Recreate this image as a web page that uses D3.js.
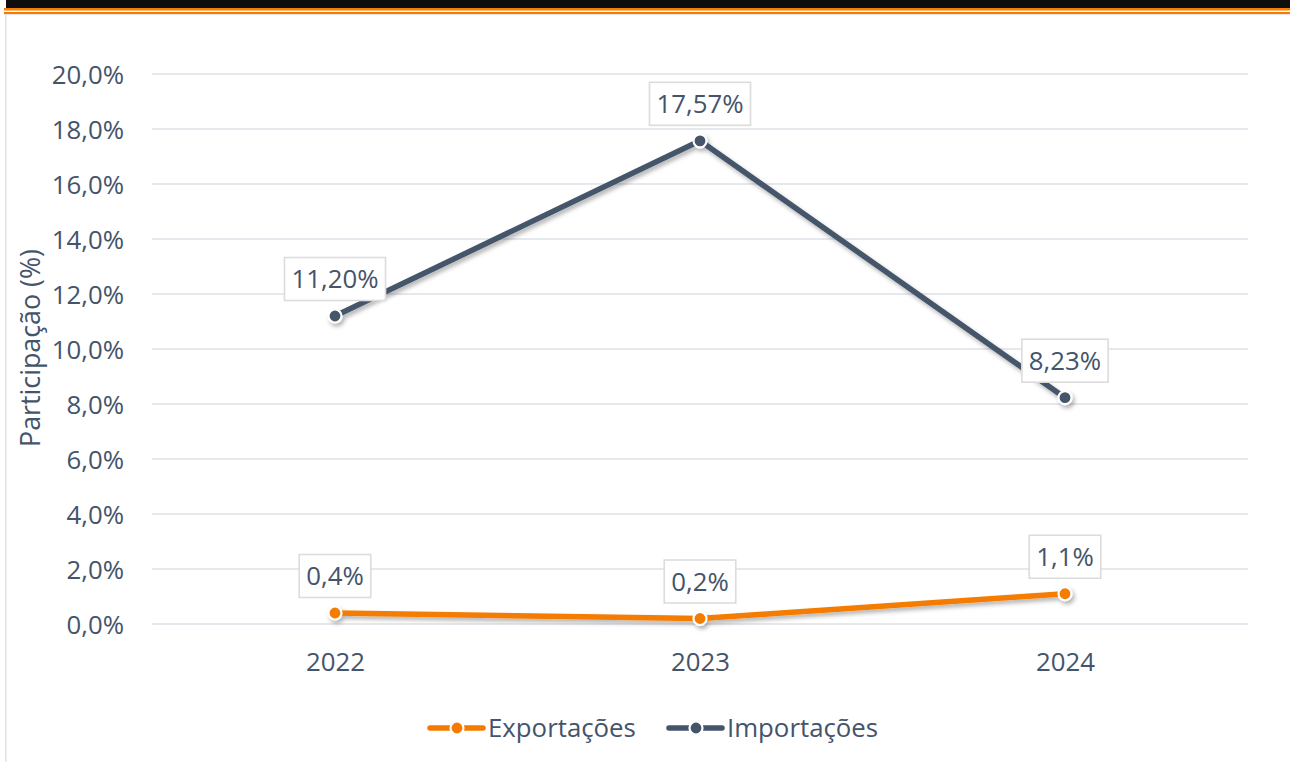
<!DOCTYPE html>
<html><head><meta charset="utf-8">
<script src="https://cdn.jsdelivr.net/npm/d3@7"></script>
<style>html,body{margin:0;padding:0;background:#fff;overflow:hidden}svg{display:block}</style>
</head><body>
<svg id="c" width="1290" height="762"></svg>
<script>
const categories = ["2022", "2023", "2024"];
const exportValues = [0.4, 0.2, 1.1];
const importValues = [11.20, 17.57, 8.23];
const exportLabels = ["0,4%", "0,2%", "1,1%"];
const importLabels = ["11,20%", "17,57%", "8,23%"];
const yTicks = [0, 2, 4, 6, 8, 10, 12, 14, 16, 18, 20];
const seriesNames = ["Exportações", "Importações"];
const colors = ["#f47b00", "#44546a"];

const svg = d3.select("#c");
const font = "'Open Sans', sans-serif";
const textColor = "#44546a";
const fs = 25.8;

// header
svg.append("rect").attr("x", 6).attr("y", 0).attr("width", 1284).attr("height", 8).attr("fill", "#0e0e0e");
svg.append("rect").attr("x", 4).attr("y", 8).attr("width", 1286).attr("height", 2.5).attr("fill", "#f57c00");
svg.append("rect").attr("x", 4).attr("y", 12).attr("width", 1286).attr("height", 2.2).attr("fill", "#f57c00");
svg.append("rect").attr("x", 4).attr("y", 14.2).attr("width", 1286).attr("height", 1).attr("fill", "#dfe5ec");
svg.append("rect").attr("x", 5).attr("y", 14).attr("width", 1.6).attr("height", 748).attr("fill", "#dfe5ec");

const defs = svg.append("defs");
const f = defs.append("filter").attr("id", "sh").attr("x", "-10%").attr("y", "-10%").attr("width", "120%").attr("height", "140%");
f.append("feDropShadow").attr("dx", 2).attr("dy", 3).attr("stdDeviation", 2.2).attr("flood-color", "#000").attr("flood-opacity", 0.3);

const x = d3.scalePoint().domain(categories).range([152.5, 1247.5]).padding(0.5);
const y = d3.scaleLinear().domain([0, 20]).range([624, 74]);

// grid
svg.append("g").selectAll("line").data(yTicks).join("line")
  .attr("x1", 152).attr("x2", 1248)
  .attr("y1", d => y(d)).attr("y2", d => y(d))
  .attr("stroke", "#dde2e8").attr("stroke-width", 1.6);

// y axis labels
const yAxis = d3.axisLeft(y).tickValues(yTicks).tickSize(0).tickPadding(0)
  .tickFormat(d => d.toFixed(1).replace(".", ",") + "%");
const ya = svg.append("g").attr("transform", "translate(124,0)").call(yAxis);
ya.select(".domain").remove();
ya.selectAll("text").attr("font-family", font).attr("font-size", fs).attr("fill", textColor).attr("dy", "0.35em");

// x axis labels
const xAxis = d3.axisBottom(x).tickSize(0).tickPadding(0);
const xa = svg.append("g").attr("transform", "translate(0,662)").call(xAxis);
xa.select(".domain").remove();
xa.selectAll("text").attr("font-family", font).attr("font-size", fs).attr("fill", textColor).attr("dy", "0.35em");

// y title
svg.append("text").attr("transform", "translate(31,348) rotate(-90)")
  .attr("text-anchor", "middle").attr("dy", "0.35em")
  .attr("font-family", font).attr("font-size", fs + 1).attr("fill", textColor)
  .text("Participação (%)");

const series = [
  {name: seriesNames[0], values: exportValues, labels: exportLabels, color: colors[0]},
  {name: seriesNames[1], values: importValues, labels: importLabels, color: colors[1]}
];

const line = d3.line().x((d, i) => x(categories[i])).y(d => y(d));

series.forEach(s => {
  const sg = svg.append("g").attr("filter", "url(#sh)");
  sg.append("path").datum(s.values).attr("d", line)
    .attr("fill", "none").attr("stroke", s.color).attr("stroke-width", 5.5)
    .attr("stroke-linejoin", "round").attr("stroke-linecap", "round");
  sg.selectAll("circle").data(s.values).join("circle")
    .attr("cx", (d, i) => x(categories[i])).attr("cy", d => y(d)).attr("r", 6.5)
    .attr("fill", s.color).attr("stroke", "#fff").attr("stroke-width", 2.2);
});

// data labels
series.forEach(s => {
  s.values.forEach((v, i) => {
    const cx = x(categories[i]), cy = y(v) - 37;
    const lg = svg.append("g");
    const t = lg.append("text").attr("x", cx).attr("y", cy).attr("dy", "0.35em")
      .attr("text-anchor", "middle").attr("font-family", font).attr("font-size", fs)
      .attr("fill", textColor).text(s.labels[i]);
    const bb = t.node().getBBox();
    lg.insert("rect", "text").attr("x", cx - bb.width / 2 - 7).attr("y", cy - 21.5)
      .attr("width", bb.width + 14).attr("height", 43)
      .attr("fill", "#fff").attr("stroke", "#dcdcdc").attr("stroke-width", 1.6);
  });
});

// legend
const legend = [
  {name: seriesNames[0], color: colors[0], x0: 428},
  {name: seriesNames[1], color: colors[1], x0: 667}
];
legend.forEach(l => {
  const lg = svg.append("g");
  lg.append("line").attr("x1", l.x0 + 2).attr("x2", l.x0 + 55).attr("y1", 728).attr("y2", 728)
    .attr("stroke", l.color).attr("stroke-width", 5.5).attr("stroke-linecap", "round");
  lg.append("circle").attr("cx", l.x0 + 29).attr("cy", 728).attr("r", 6.5)
    .attr("fill", l.color).attr("stroke", "#fff").attr("stroke-width", 2.2);
  lg.append("text").attr("x", l.x0 + 60).attr("y", 728).attr("dy", "0.35em")
    .attr("font-family", font).attr("font-size", fs).attr("fill", textColor).text(l.name);
});
</script>
</body></html>
